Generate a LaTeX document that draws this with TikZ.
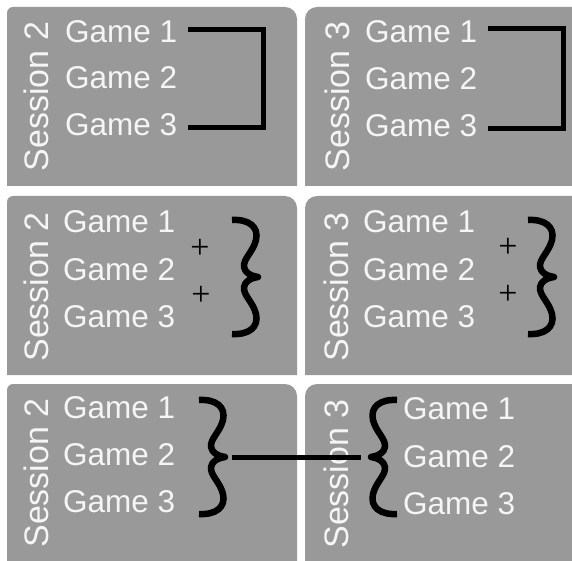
\documentclass[tikz,border=0pt]{standalone}
\usepackage{fontspec}
\setmainfont{Liberation Sans}
\newfontfamily\plusfont{Liberation Serif}
\usepackage{tikz}

\definecolor{panelgray}{RGB}{153,153,153}
\definecolor{textwhite}{RGB}{245,245,245}

\begin{document}
\begin{tikzpicture}[x=1pt, y=-1pt,
    panel/.style={fill=panelgray},
    game/.style={anchor=base west, text=textwhite, inner xsep=11pt, inner ysep=0pt, font=\fontsize{31.5}{31.5}\selectfont},
    session/.style={rotate=90, text=textwhite, inner sep=0pt, font=\fontsize{34}{34}\selectfont},
    plus/.style={inner sep=0pt, font=\plusfont\fontsize{34}{34}\selectfont},
    bracket/.style={line width=5pt},
    link/.style={line width=5pt},
    rbrace/.pic={
        \draw[line width=6.5pt, line join=round] (0,0) .. controls (17,-1) and (27,7) .. (24,20)
            .. controls (21,32) and (11,39) .. (12,47)
            .. controls (13,53) and (19,56) .. (26,57)
            .. controls (19,58) and (13,61) .. (12,67)
            .. controls (11,75) and (21,82) .. (24,94)
            .. controls (27,107) and (17,115) .. (0,114);
        \coordinate (-tip) at (28,57);
    }]
    \fill[white] (0,0) rectangle (572,561);
    \useasboundingbox (0,0) rectangle (572,561);

    % panels
    \fill[panel] (7,186) [rounded corners=6pt] -- (7,7) [rounded corners=12pt] -- (297,7) [sharp corners] -- (297,186) -- cycle;
    \fill[panel] (305,186) [rounded corners=12pt] -- (305,7) [sharp corners] -- (572,7) -- (572,186) -- cycle;
    \fill[panel] (7,375) [rounded corners=6pt] -- (7,196) [rounded corners=12pt] -- (297,196) [sharp corners] -- (297,375) -- cycle;
    \fill[panel] (305,375) [rounded corners=12pt] -- (305,196) [sharp corners] -- (572,196) -- (572,375) -- cycle;
    \fill[panel] (7,561) [rounded corners=6pt] -- (7,384) [rounded corners=12pt] -- (297,384) [sharp corners] -- (297,561) -- cycle;
    \fill[panel] (305,561) [rounded corners=12pt] -- (305,384) [sharp corners] -- (572,384) -- (572,561) -- cycle;

    % top row: bracket
    \node[session] (sesA) at (36.5,96.5) {Session 2};
    \node[game] (gA1) at (54,43) {Game 1};
    \node[game] (gA2) at (54,89) {Game 2};
    \node[game] (gA3) at (54,136) {Game 3};
    \node[session] (sesB) at (337,96.5) {Session 3};
    \node[game] (gB1) at (354,43) {Game 1};
    \node[game] (gB2) at (354,90) {Game 2};
    \node[game] (gB3) at (354,137) {Game 3};
    \coordinate (kA) at (263,0);
    \coordinate (kB) at (563,0);
    \draw[bracket] ([yshift=3pt]gA1.east) -- ([yshift=3pt]gA1.east -| kA) -- ([yshift=-2pt]gA3.east -| kA) -- ([yshift=-2pt]gA3.east);
    \draw[bracket] ([yshift=4pt]gB1.east) -- ([yshift=4pt]gB1.east -| kB) -- ([yshift=-2pt]gB3.east -| kB) -- ([yshift=-2pt]gB3.east);

    % middle row: sum
    \node[session] (sesC) at (36,287) {Session 2};
    \node[game] (gC1) at (52,233) {Game 1};
    \node[game] (gC2) at (52,280) {Game 2};
    \node[game] (gC3) at (52,327) {Game 3};
    \node[plus] (pC1) at (200,249) {+};
    \node[plus] (pC2) at (201,296) {+};
    \pic (braceC) at (232,220) {rbrace};
    \node[session] (sesD) at (336,287) {Session 3};
    \node[game] (gD1) at (352,233) {Game 1};
    \node[game] (gD2) at (352,280) {Game 2};
    \node[game] (gD3) at (352,327) {Game 3};
    \node[plus] (pD1) at (508,248) {+};
    \node[plus] (pD2) at (508,295) {+};
    \pic (braceD) at (528,220) {rbrace};

    % bottom row: link
    \node[session] (sesE) at (36,473) {Session 2};
    \node[game] (gE1) at (52,418) {Game 1};
    \node[game] (gE2) at (52,465) {Game 2};
    \node[game] (gE3) at (52,512) {Game 3};
    \pic (braceE) at (199,400) {rbrace};
    \node[session] (sesF) at (336,474) {Session 3};
    \node[game] (gF1) at (392,419) {Game 1};
    \node[game] (gF2) at (392,467) {Game 2};
    \node[game] (gF3) at (392,514) {Game 3};
    \pic[xscale=-1] (braceF) at (397,400) {rbrace};
    \draw[link] ([xshift=5pt]braceE-tip) -- ([xshift=-8pt]braceF-tip);
\end{tikzpicture}
\end{document}
